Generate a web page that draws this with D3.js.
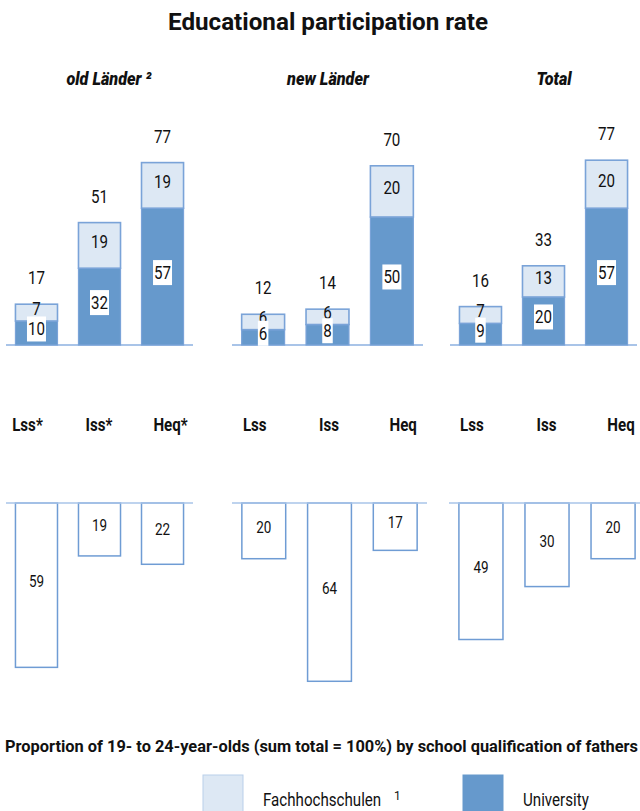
<!DOCTYPE html>
<html>
<head>
<meta charset="utf-8">
<script src="https://cdn.jsdelivr.net/npm/d3@7"></script>
<style>
  html, body { margin: 0; padding: 0; background: #fff; }
  svg { display: block; }
  text { font-family: Roboto, "Liberation Sans", sans-serif; fill: #111; }
</style>
</head>
<body>
<svg id="chart" width="640" height="811"></svg>
<script>
// ---- data ----
const title = "Educational participation rate";
const panels = ["old Länder ²", "new Länder", "Total"];
const qualifications = [
  ["Lss*", "Iss*", "Heq*"],
  ["Lss", "Iss", "Heq"],
  ["Lss", "Iss", "Heq"]
];
const university = [
  [10, 32, 57],
  [6, 8, 50],
  [9, 20, 57]
];
const fachhochschulen = [
  [7, 19, 19],
  [6, 6, 20],
  [7, 13, 20]
];
const participationTotal = [
  [17, 51, 77],
  [12, 14, 70],
  [16, 33, 77]
];
const fatherShare = [
  [59, 19, 22],
  [20, 64, 17],
  [49, 30, 20]
];
const caption = "Proportion of 19- to 24-year-olds (sum total = 100%) by school qualification of fathers";
const legendLabels = ["Fachhochschulen", "University"];

// ---- layout ----
const COLOR_UNI = "#6699cc";
const COLOR_FH = "#dde8f4";
const COLOR_EDGE = "#7aa3d8";
const COLOR_AXIS = "#a9c4e8";
const CONDENSE = 0.84; // narrow the glyphs to a condensed cut

const topBase = 345, topHeight = 192;
const topMax = [80, 75, 80];
const topRanges = [[6, 193], [232, 423], [450, 637]];
const botBase = 503, botHeight = 195, botMax = 70;
const botRanges = [[6, 193], [232, 427], [449, 645]];
const headerX = [109, 328, 554];

const svg = d3.select("#chart");

// squeeze a text element horizontally, to a fixed width or by a factor
function condense(sel, width, factor) {
  sel.each(function () {
    const len = this.getComputedTextLength();
    d3.select(this)
      .attr("textLength", width != null ? width : len * (factor || CONDENSE))
      .attr("lengthAdjust", "spacingAndGlyphs");
  });
}

svg.append("text")
  .attr("x", 328).attr("y", 30)
  .attr("text-anchor", "middle")
  .style("font-size", "24px").style("font-weight", "bold")
  .text(title)
  .call(condense, 320);

panels.forEach((name, p) => {
  const cats = qualifications[p];
  const x = d3.scaleBand().domain(cats).range(topRanges[p]).paddingInner(0.333).paddingOuter(0.15);
  const y = d3.scaleLinear().domain([0, topMax[p]]).range([topBase, topBase - topHeight]);
  const g = svg.append("g");

  g.append("text")
    .attr("x", headerX[p]).attr("y", 85)
    .attr("text-anchor", "middle")
    .style("font-size", "18px").style("font-weight", "900").style("font-style", "italic")
    .text(name)
    .call(condense, null, 0.9);

  // baseline
  g.append("line")
    .attr("x1", topRanges[p][0]).attr("x2", topRanges[p][1])
    .attr("y1", topBase).attr("y2", topBase)
    .attr("stroke", COLOR_AXIS).attr("stroke-width", 2);

  const rows = cats.map((c, i) => ({ c, uni: university[p][i], fh: fachhochschulen[p][i], total: participationTotal[p][i] }));

  // university segment
  g.selectAll("rect.uni").data(rows).join("rect")
    .attr("class", "uni")
    .attr("x", d => x(d.c)).attr("width", x.bandwidth())
    .attr("y", d => y(d.uni)).attr("height", d => y(0) - y(d.uni))
    .attr("fill", COLOR_UNI).attr("stroke", COLOR_EDGE).attr("stroke-width", 1.2);

  // Fachhochschulen segment stacked on top
  g.selectAll("rect.fh").data(rows).join("rect")
    .attr("class", "fh")
    .attr("x", d => x(d.c)).attr("width", x.bandwidth())
    .attr("y", d => y(d.uni + d.fh)).attr("height", d => y(d.uni) - y(d.uni + d.fh))
    .attr("fill", COLOR_FH).attr("stroke", COLOR_EDGE).attr("stroke-width", 1.6);

  // totals above the stack
  g.selectAll("text.total").data(rows).join("text")
    .attr("class", "total")
    .attr("x", d => x(d.c) + x.bandwidth() / 2)
    .attr("y", d => y(d.uni + d.fh) - 20)
    .attr("text-anchor", "middle")
    .style("font-size", "18px")
    .text(d => d.total)
    .call(condense);

  // Fachhochschulen value
  g.selectAll("text.fhv").data(rows).join("text")
    .attr("class", "fhv")
    .attr("x", d => x(d.c) + x.bandwidth() / 2)
    .attr("y", d => (y(d.uni) + y(d.uni + d.fh)) / 2 - 4)
    .attr("dy", "0.36em")
    .attr("text-anchor", "middle")
    .style("font-size", "18px")
    .text(d => d.fh)
    .call(condense);

  // University value on a white tag
  const tags = g.selectAll("g.univ").data(rows).join("g").attr("class", "univ");
  const tagText = tags.append("text")
    .attr("x", d => x(d.c) + x.bandwidth() / 2)
    .attr("y", d => (y(0) + y(d.uni)) / 2 - 4)
    .attr("dy", "0.36em")
    .attr("text-anchor", "middle")
    .style("font-size", "18px")
    .text(d => d.uni)
    .call(condense);
  tagText.each(function () {
    const b = this.getBBox();
    d3.select(this.parentNode).insert("rect", "text")
      .attr("x", b.x - 1).attr("width", b.width + 2)
      .attr("y", b.y - 2).attr("height", b.height + 4)
      .attr("fill", "#fff");
  });

  // ---- lower row: fathers' school qualification ----
  const xb = d3.scaleBand().domain(cats).range(botRanges[p]).paddingInner(0.333).paddingOuter(0.15);
  const yb = d3.scaleLinear().domain([0, botMax]).range([botBase, botBase + botHeight]);
  const labelX = d3.scalePoint().domain(cats)
    .range([xb(cats[0]) + xb.bandwidth() / 2 - 9, xb(cats[2]) + xb.bandwidth() / 2 + 8]);

  g.selectAll("text.cat").data(cats).join("text")
    .attr("class", "cat")
    .attr("x", d => labelX(d)).attr("y", 431)
    .attr("text-anchor", "middle")
    .style("font-size", "18px").style("font-weight", "bold")
    .text(d => d)
    .call(condense);

  const brows = cats.map((c, i) => ({ c, v: fatherShare[p][i] }));
  g.selectAll("rect.share").data(brows).join("rect")
    .attr("class", "share")
    .attr("x", d => xb(d.c)).attr("width", xb.bandwidth())
    .attr("y", botBase).attr("height", d => yb(d.v) - botBase)
    .attr("fill", "#fff").attr("stroke", "#6f9cd4").attr("stroke-width", 1.5);

  g.append("line")
    .attr("x1", botRanges[p][0]).attr("x2", botRanges[p][1])
    .attr("y1", botBase).attr("y2", botBase)
    .attr("stroke", COLOR_AXIS).attr("stroke-width", 1.5);

  g.selectAll("text.share").data(brows).join("text")
    .attr("class", "share")
    .attr("x", d => xb(d.c) + xb.bandwidth() / 2)
    .attr("y", d => (botBase + yb(d.v)) / 2 - 4)
    .attr("dy", "0.36em")
    .attr("text-anchor", "middle")
    .style("font-size", "16px")
    .text(d => d.v)
    .call(condense);
});

// caption
svg.append("text")
  .attr("x", 5).attr("y", 752)
  .style("font-size", "16px").style("font-weight", "bold")
  .text(caption)
  .call(condense, 633);

// legend
const legend = svg.append("g");
const legendX = [203, 463];
const legendColors = [COLOR_FH, COLOR_UNI];
legendLabels.forEach((lab, i) => {
  legend.append("rect")
    .attr("x", legendX[i]).attr("y", 775).attr("width", 40).attr("height", 40)
    .attr("fill", legendColors[i])
    .attr("stroke", i === 0 ? "#b9cfea" : COLOR_UNI).attr("stroke-width", 1);
  legend.append("text")
    .attr("x", legendX[i] + 60).attr("y", 806)
    .style("font-size", "18px")
    .text(lab)
    .call(condense);
});
// footnote marker after the Fachhochschulen label
legend.append("text")
  .attr("x", 394).attr("y", 800)
  .style("font-size", "12px")
  .text("1");
</script>
</body>
</html>
